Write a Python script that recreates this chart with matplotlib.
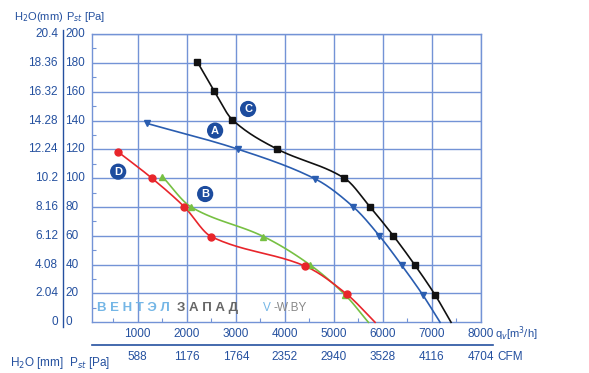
import numpy as np
import matplotlib
matplotlib.use("Agg")
import matplotlib.pyplot as plt
from matplotlib.lines import Line2D
from matplotlib.transforms import blended_transform_factory

# curve data (flow in m3/h, static pressure in Pa)
a_flow = [1185, 3053, 4617, 5398, 5928, 6385, 6813, 7166]
a_pres = [138, 120, 99.5, 80, 60, 39.5, 19, 0]
b_flow = [1503, 2088, 3563, 4515, 5229, 5704]
b_pres = [101, 80, 59.5, 39.8, 19, 0]
c_flow = [2217, 2557, 2930, 3836, 5214, 5738, 6213, 6656, 7064, 7390]
c_pres = [180.5, 160.5, 140.5, 120.3, 100, 80, 60, 39.5, 19, 0]
d_flow = [606, 1287, 1952, 2496, 4413, 5263, 5840]
d_pres = [118, 100, 80, 59.5, 39, 19.5, 0]

pa_ticks = [0, 20, 40, 60, 80, 100, 120, 140, 160, 180, 200]
mm_labels = ["0", "2.04", "4.08", "6.12", "8.16", "10.2", "12.24", "14.28", "16.32", "18.36", "20.4"]
flow_ticks = [1000, 2000, 3000, 4000, 5000, 6000, 7000, 8000]
cfm_labels = ["588", "1176", "1764", "2352", "2940", "3528", "4116", "4704"]

TXT = "#24509f"
GRID = "#7393d6"
plt.rcParams['font.family'] = ['Liberation Sans', 'DejaVu Sans']


def smooth(x, y, n=25):
    # cubic hermite with centred-difference slopes, only for drawing the line
    x = np.asarray(x, float)
    y = np.asarray(y, float)
    h = np.diff(x)
    m = np.empty_like(x)
    m[1:-1] = (y[2:] - y[:-2]) / (x[2:] - x[:-2])
    m[0] = (y[1] - y[0]) / h[0]
    m[-1] = (y[-1] - y[-2]) / h[-1]
    xs, ys = [], []
    t = np.linspace(0, 1, n, endpoint=False)
    h00 = 2 * t ** 3 - 3 * t ** 2 + 1
    h10 = t ** 3 - 2 * t ** 2 + t
    h01 = -2 * t ** 3 + 3 * t ** 2
    h11 = t ** 3 - t ** 2
    for i in range(len(x) - 1):
        xs.extend(x[i] + t * h[i])
        ys.extend(h00 * y[i] + h10 * h[i] * m[i] + h01 * y[i + 1] + h11 * h[i] * m[i + 1])
    xs.append(x[-1])
    ys.append(y[-1])
    return xs, ys


fig = plt.figure(figsize=(5.89, 3.73), dpi=100)
ax = fig.add_axes([0.1557, 0.1359, 0.6609, 0.7729])
ax.set_xlim(60, 8000)
ax.set_ylim(0, 200)

ax.set_xticks(flow_ticks)
ax.set_yticks(pa_ticks[1:])
ax.set_xticks(np.arange(500, 8000, 1000), minor=True)
ax.set_yticks(np.arange(10, 200, 20), minor=True)
ax.tick_params(which='both', direction='in', labelbottom=False, labelleft=False, color=GRID)
ax.tick_params(which='major', length=0)
ax.tick_params(which='minor', length=3, width=0.8)
ax.grid(True, which='major', color=GRID, linewidth=1.0)
for s in ax.spines.values():
    s.set_color(GRID)
    s.set_linewidth(1.0)

series = [
    (a_flow, a_pres, "#2a5db0", "v"),
    (b_flow, b_pres, "#77c043", "^"),
    (c_flow, c_pres, "#111111", "s"),
    (d_flow, d_pres, "#e8252b", "o"),
]
for fx, fy, col, mk in series:
    sx, sy = smooth(fx, fy)
    ax.plot(sx, sy, color=col, linewidth=1.2, zorder=3, clip_on=False)
    ax.plot(fx[:-1], fy[:-1], linestyle='none', marker=mk, color=col, markersize=5, zorder=4)

# curve name badges
for name, bx, by in [("C", 3250, 148), ("A", 2577, 133), ("D", 600, 104.5), ("B", 2374, 89)]:
    ax.text(bx, by, name, color="white", fontsize=8, fontweight='bold', ha='center', va='center',
            zorder=5, bbox=dict(boxstyle='circle,pad=0.28', fc="#1d4c9e", ec='none'))

# watermark
ax.text(160, 10, "В Е Н Т Э Л", color="#74b6e6", fontsize=9.5, fontweight='bold', va='center', zorder=2)
ax.text(1800, 10, "З А П А Д", color="#666666", fontsize=9.5, fontweight='bold', va='center', zorder=2)
ax.text(3550, 10, "V", color="#74b6e6", fontsize=8.5, va='center', zorder=2)
ax.text(3770, 10, "-W.BY", color="#888888", fontsize=8.5, va='center', zorder=2)

# left double scale
ty = blended_transform_factory(fig.transFigure, ax.transData)
fig.add_artist(Line2D([62.5 / 589, 62.5 / 589], [1 - 30 / 373, 1 - 327 / 373], color=TXT, linewidth=1.0))
for v, mm in zip(pa_ticks, mm_labels):
    fig.text(58 / 589, v, mm, transform=ty, color=TXT, fontsize=8.5, ha='right', va='center')
    fig.text(65.5 / 589, v, str(v), transform=ty, color=TXT, fontsize=8.5, ha='left', va='center')
fig.text(14 / 589, 1 - 17 / 373, "H$_2$O(mm)", color=TXT, fontsize=8, ha='left', va='center')
fig.text(66 / 589, 1 - 17 / 373, "P$_{st}$ [Pa]", color=TXT, fontsize=8, ha='left', va='center')

# bottom double scale
tx = blended_transform_factory(ax.transData, fig.transFigure)
fig.add_artist(Line2D([92 / 589, 493 / 589], [1 - 345 / 373, 1 - 345 / 373], color=TXT, linewidth=1.2))
for v, cfm in zip(flow_ticks, cfm_labels):
    fig.text(v, 1 - 334 / 373, str(v), transform=tx, color=TXT, fontsize=8.5, ha='center', va='center')
    fig.text(v, 1 - 357 / 373, cfm, transform=tx, color=TXT, fontsize=8.5, ha='center', va='center')
fig.text(495 / 589, 1 - 334 / 373, "q$_v$[m$^3$/h]", color=TXT, fontsize=8, ha='left', va='center')
fig.text(497 / 589, 1 - 357 / 373, "CFM", color=TXT, fontsize=8.5, ha='left', va='center')
fig.text(10 / 589, 1 - 363 / 373, "H$_2$O [mm]  P$_{st}$ [Pa]", color=TXT, fontsize=8.5, ha='left', va='center')

fig.savefig("out.png", dpi=100, facecolor='white')
